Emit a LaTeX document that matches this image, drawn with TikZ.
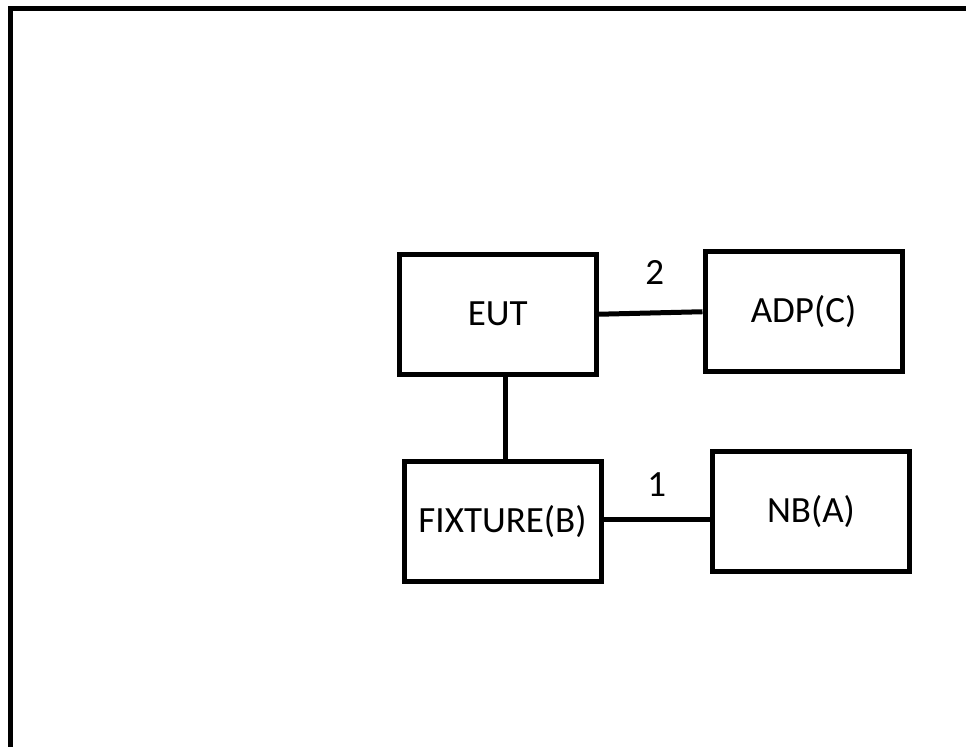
\documentclass[tikz,border=0pt]{standalone}
\usepackage{fontspec}
\setmainfont{Carlito}
\usetikzlibrary{positioning}

\begin{document}
\begin{tikzpicture}[
  x=0.5pt, y=-0.5pt,
  box/.style={draw, line width=2.5pt, minimum width=98.5pt, minimum height=60pt, align=center, font=\fontsize{18.5}{22}\selectfont},
  wire/.style={line width=2.5pt},
  num/.style={font=\fontsize{18.5}{22}\selectfont}
]
\useasboundingbox (0,0) rectangle (966,747);
\clip (0,0) rectangle (966,747);
% outer frame, runs off the right and bottom edge
\draw[line width=2.5pt] (10,8.5) rectangle (1000,800);

\node[box] (eut) at (497.75,314.25) {EUT};
\node[box] (adp) at (803.5,311.75) {ADP(C)};
\node[box] (fix) at (502.5,521.25) {FIXTURE(B)};
\node[box] (nb) at (811,511.5) {NB(A)};

\draw[wire] (eut.east) -- node[num, midway, above=9.5pt, xshift=2pt]{2} (adp.west);
\draw[wire] ([yshift=1pt]fix.east) -- node[num, midway, above=7pt]{1} ([yshift=1pt]fix.east -| nb.west);
\draw[wire] ([xshift=1.25pt]fix.north) -- ([xshift=1.25pt]fix.north |- eut.south);
\end{tikzpicture}
\end{document}
